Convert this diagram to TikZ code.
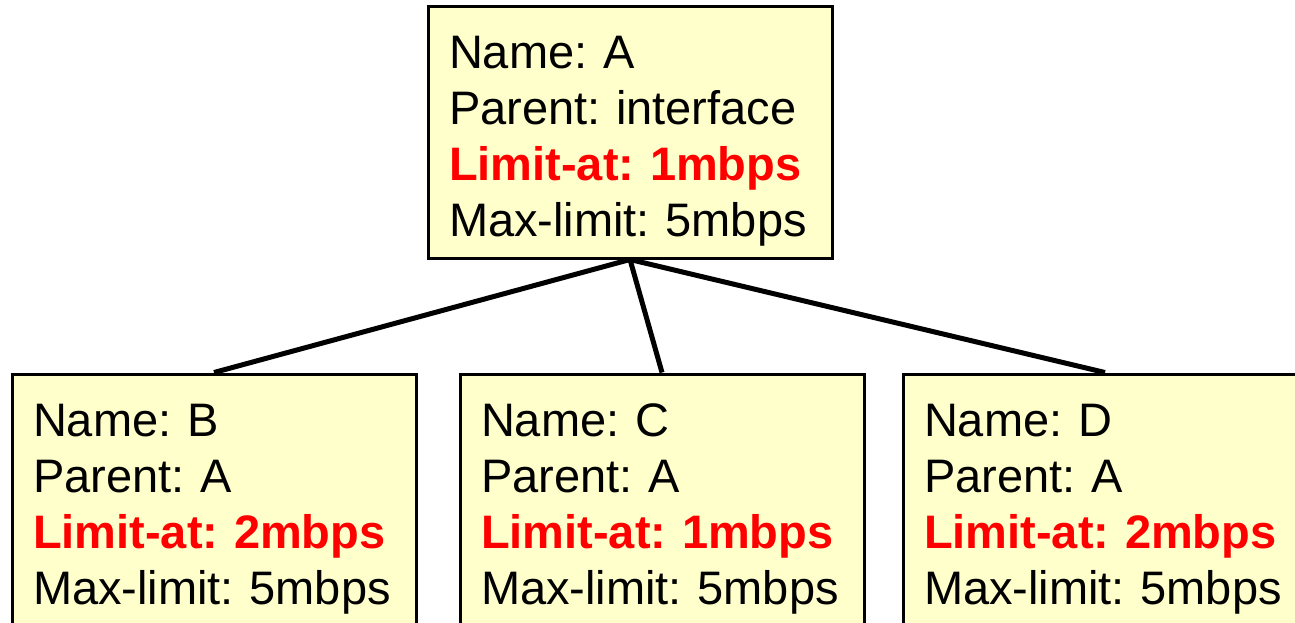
\documentclass[tikz,border=0pt]{standalone}
\usepackage{fontspec}
\setmainfont{Liberation Sans}
\usepackage{xcolor}
\definecolor{notepaper}{HTML}{FFFFCC}
\definecolor{limitred}{HTML}{FF0000}
\newcommand{\limitat}[1]{\textcolor{limitred}{\bfseries Limit-at: #1}}
\frenchspacing

\begin{document}
\begin{tikzpicture}[x=1pt, y=-1pt,
    queue/.style={draw, line width=3pt, fill=notepaper,
                  minimum width=404pt, minimum height=252pt,
                  text width=362pt, align=left, inner sep=0pt,
                  font=\fontsize{47}{56}\selectfont,
                  execute at begin node={\rule{0pt}{51pt}}},
    link/.style={line width=5pt}
  ]
    \useasboundingbox (0,0) rectangle (1295,622);

    \node[queue] (qa) at (630,132)
      {Name: A\\Parent: interface\\\limitat{1mbps}\\Max-limit: 5mbps};
    \node[queue] (qb) at (214,500)
      {Name: B\\Parent: A\\\limitat{2mbps}\\Max-limit: 5mbps};
    \node[queue] (qc) at (662,500)
      {Name: C\\Parent: A\\\limitat{1mbps}\\Max-limit: 5mbps};
    \node[queue] (qd) at (1105,500)
      {Name: D\\Parent: A\\\limitat{2mbps}\\Max-limit: 5mbps};

    % parent to children
    \draw[link] (qa.south) -- (qb.north);
    \draw[link] (qa.south) -- (qc.north);
    \draw[link] (qa.south) -- (qd.north);
\end{tikzpicture}
\end{document}
